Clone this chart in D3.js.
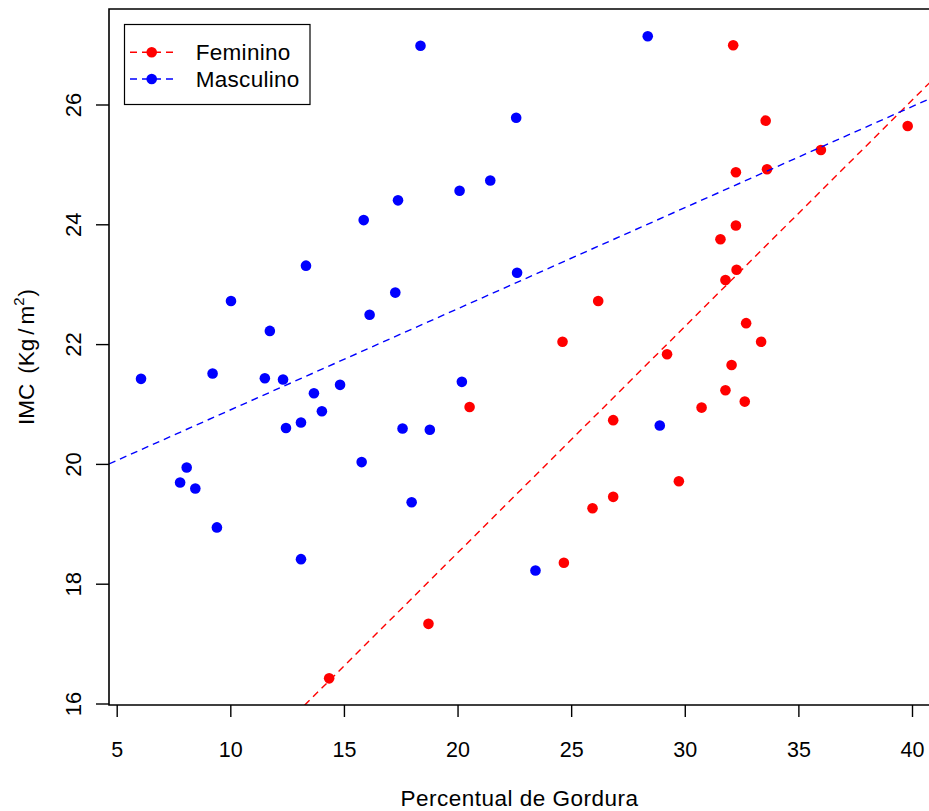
<!DOCTYPE html>
<html>
<head>
<meta charset="utf-8">
<script src="https://cdn.jsdelivr.net/npm/d3@7"></script>
<style>
html,body{margin:0;padding:0;background:#fff;overflow:hidden;}
text{font-family:"Liberation Sans",Arial,Helvetica,sans-serif;fill:#000;}
</style>
</head>
<body>
<svg id="chart" width="929" height="811"></svg>
<script>
// ---- data ----
const groups = ["Feminino", "Masculino"];
const groupColors = ["#FF0000", "#0000FF"];
const femX = [14.35,18.72,20.53,24.62,24.68,25.94,26.19,26.85,26.85,29.22,29.74,30.74,31.57,31.79,31.79,32.06,32.13,32.25,32.25,32.28,32.64,32.70,33.36,33.56,33.62,35.99,39.81];
const femY = [16.42,17.33,20.95,22.04,18.35,19.26,22.72,20.73,19.45,21.83,19.71,20.94,23.75,23.07,21.23,21.65,26.99,24.87,23.98,23.24,21.04,22.35,22.04,25.73,24.92,25.24,25.64];
const mascX = [6.07,7.79,8.08,8.46,9.41,9.22,10.03,11.74,11.52,12.32,12.45,13.11,13.11,13.68,13.33,14.03,14.83,15.78,15.87,16.13,17.26,17.38,17.58,17.98,18.37,18.78,20.09,20.19,21.44,22.58,22.62,23.43,28.37,28.90];
const mascY = [21.42,19.69,19.94,19.59,18.94,21.51,22.72,22.22,21.43,21.41,20.60,20.69,18.41,21.18,23.31,20.88,21.32,20.03,24.07,22.49,22.86,24.40,20.59,19.36,26.98,20.57,24.56,21.37,24.73,25.78,23.19,18.22,27.14,20.64];
const fitIntercept = [10.958, 19.213];
const fitSlope = [0.3778, 0.1688];
const xTicks = [5,10,15,20,25,30,35,40];
const yTicks = [16,18,20,22,24,26];
const xTitle = "Percentual de Gordura";

// ---- layout ----
const svg = d3.select("#chart");
const plot = {left:109, right:938, top:9, bottom:705};
const x = d3.scaleLinear().domain([5,40]).range([116.7,912]);
const y = d3.scaleLinear().domain([16,26]).range([703.5,104.5]);
const FS = 22.5, TFS = 21.5;

svg.append("defs").append("clipPath").attr("id","clip")
  .append("rect").attr("x",plot.left).attr("y",plot.top)
  .attr("width",plot.right-plot.left).attr("height",plot.bottom-plot.top);

// points
const seriesX = [femX, mascX], seriesY = [femY, mascY];
groups.forEach((g,i)=>{
  const pts = seriesX[i].map((v,j)=>({x:v,y:seriesY[i][j]}));
  svg.append("g").selectAll("circle").data(pts).join("circle")
    .attr("cx",d=>x(d.x)).attr("cy",d=>y(d.y)).attr("r",5.3)
    .attr("fill",groupColors[i]);
});

// fitted lines
const xd = [x.invert(plot.left), x.invert(plot.right)];
groups.forEach((g,i)=>{
  const pts = xd.map(v=>[v, fitIntercept[i]+fitSlope[i]*v]);
  svg.append("path").attr("clip-path","url(#clip)")
    .attr("d", d3.line().x(d=>x(d[0])).y(d=>y(d[1]))(pts))
    .attr("fill","none").attr("stroke",groupColors[i])
    .attr("stroke-width",1.4).attr("stroke-dasharray","7,5");
});

// box
svg.append("path")
  .attr("d",`M${plot.right},${plot.top}H${plot.left}V${plot.bottom}H${plot.right}`)
  .attr("fill","none").attr("stroke","#000").attr("stroke-width",1.6);

// x axis
const xAxis = d3.axisBottom(x).tickValues(xTicks).tickSize(12).tickPadding(0).tickFormat(d3.format("d"));
const gx = svg.append("g").attr("transform",`translate(0,${plot.bottom})`).call(xAxis);
gx.select(".domain").remove();
gx.selectAll("line").attr("stroke","#000").attr("stroke-width",1.4);
gx.selectAll("text").attr("y",52).attr("dy",null).attr("font-size",TFS)
  .style("font-family","'Liberation Sans',Arial,sans-serif").attr("fill","#000");

// y axis
const yAxis = d3.axisLeft(y).tickValues(yTicks).tickSize(13).tickFormat(d3.format("d"));
const gy = svg.append("g").attr("transform",`translate(${plot.left},0)`).call(yAxis);
gy.select(".domain").remove();
gy.selectAll("line").attr("stroke","#000").attr("stroke-width",1.4);
gy.selectAll("text")
  .attr("x",null).attr("dy",null).attr("text-anchor","middle")
  .attr("transform","translate(-28.5,0) rotate(-90)")
  .attr("font-size",TFS+0.5).style("font-family","'Liberation Sans',Arial,sans-serif").attr("fill","#000");

// titles
svg.append("text").attr("x",(plot.left+plot.right)/2 - 4).attr("y",806)
  .attr("text-anchor","middle").attr("font-size",FS).attr("letter-spacing",0.5).text(xTitle);
const yt = svg.append("text").attr("transform",`translate(33.5,${(plot.top+plot.bottom)/2}) rotate(-90)`)
  .attr("text-anchor","middle").attr("font-size",FS);
yt.append("tspan").text("IMC");
yt.append("tspan").attr("dx",10).text("(Kg");
yt.append("tspan").attr("dx",4).text("/");
yt.append("tspan").attr("dx",4).text("m");
yt.append("tspan").attr("dy",-10).attr("font-size",15).text("2");
yt.append("tspan").attr("dy",10).attr("dx",1).text(")");

// legend
const lg = svg.append("g");
lg.append("rect").attr("x",124.5).attr("y",24.5).attr("width",185.5).attr("height",80)
  .attr("fill","#fff").attr("stroke","#000").attr("stroke-width",1.2);
const legY = [52.3, 79];
groups.forEach((g,i)=>{
  lg.append("line").attr("x1",130).attr("x2",174).attr("y1",legY[i]).attr("y2",legY[i])
    .attr("stroke",groupColors[i]).attr("stroke-width",1.4).attr("stroke-dasharray","7,5");
  lg.append("circle").attr("cx",151.7).attr("cy",legY[i]).attr("r",5.3).attr("fill",groupColors[i]);
  lg.append("text").attr("x",195.7).attr("y",legY[i]+8).attr("font-size",FS).attr("letter-spacing",0.3).text(g);
});
</script>
</body>
</html>
